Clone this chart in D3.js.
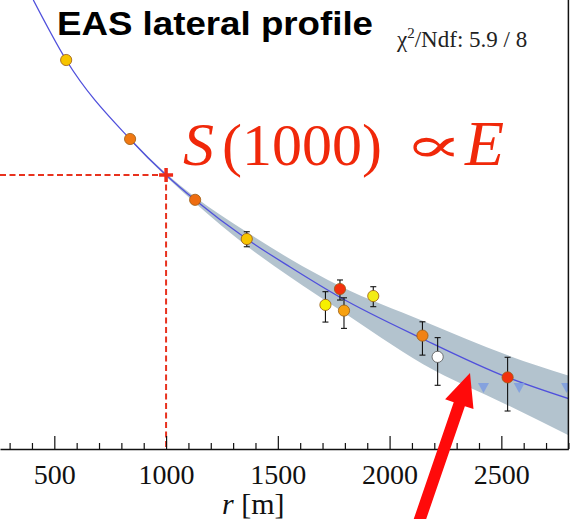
<!DOCTYPE html>
<html>
<head>
<meta charset="utf-8">
<script src="https://cdn.jsdelivr.net/npm/d3@7"></script>
<style>
  html, body { margin: 0; padding: 0; background: #fff; }
  svg { display: block; }
</style>
</head>
<body>
<svg id="chart" width="578" height="519"></svg>
<script>
// Fitted lateral distribution function S(r) [VEM] vs core distance r [m]
const fitR = [406, 553, 839, 1000, 1130, 1361, 1555, 1778, 2150, 2528, 2810];
const fitS = [200, 89.8, 31.2, 19.36, 13.87, 8.24, 5.67, 3.79, 2.17, 1.30, 0.97];

// Uncertainty band of the fit
const bandR  = [839, 1000, 1130, 1361, 1555, 1778, 2150, 2526, 2816];
const bandHi = [31.6, 19.75, 14.43, 9.05, 6.31, 4.40, 2.76, 1.75, 1.31];
const bandLo = [30.8, 18.98, 13.32, 7.51, 4.96, 3.19, 1.55, 0.90, 0.587];

// Triggered stations: distance, signal, error range, colour
const stR   = [553, 839, 1130, 1361, 1713, 1778, 1796, 1927, 2147, 2215, 2528];
const stS   = [89.8, 31.3, 13.9, 8.24, 3.42, 4.23, 3.17, 3.85, 2.27, 1.71, 1.30];
const stLo  = [null, null, null, 7.43, 2.72, 3.65, 2.50, 3.34, 1.75, 1.17, 0.83];
const stHi  = [null, null, null, 9.08, 4.08, 4.77, 3.76, 4.36, 2.73, 2.21, 1.70];
const stCol = ["#f7c400", "#f07812", "#ee6c10", "#f7c400", "#f7f000", "#f4300e",
               "#f6a010", "#f3ec14", "#f08214", "#ffffff", "#f2300c"];

// Silent stations (no signal)
const silR = [2420, 2580, 2792];
const silS = [1.13, 1.13, 1.13];

// Reference distance for the shower size estimator
const refR = 1000;
const refS = 19.36;

// Axis ticks
const majorTicks = [500, 1000, 1500, 2000, 2500];
const minorTicks = [300, 400, 600, 700, 800, 900, 1100, 1200, 1300, 1400, 1600, 1700,
                    1800, 1900, 2100, 2200, 2300, 2400, 2600, 2700, 2800];

const SERIF = "'Liberation Serif', 'Times New Roman', Times, serif";

const svg = d3.select("#chart");
const x = d3.scaleLinear().domain([257, 2800]).range([0, 568.4]);
const y = d3.scaleLog().domain([0.5, 200]).range([449, 0]);

svg.append("clipPath").attr("id", "plotClip")
  .append("rect").attr("x", 0).attr("y", 0)
  .attr("width", x(2800)).attr("height", y(0.5));

const plot = svg.append("g").attr("clip-path", "url(#plotClip)");

// Fit uncertainty band
const band = bandR.map((r, i) => ({ r, lo: bandLo[i], hi: bandHi[i] }));
plot.append("path")
  .datum(band)
  .attr("fill", "#b3c3ce")
  .attr("d", d3.area()
    .x(d => x(d.r)).y0(d => y(d.lo)).y1(d => y(d.hi))
    .curve(d3.curveMonotoneX));

// Fit line
const fit = fitR.map((r, i) => ({ r, s: fitS[i] }));
plot.append("path")
  .datum(fit)
  .attr("fill", "none")
  .attr("stroke", "#5050dc")
  .attr("stroke-width", 1.3)
  .attr("d", d3.line().x(d => x(d.r)).y(d => y(d.s)).curve(d3.curveMonotoneX));

// Dashed guides to S(1000)
plot.append("line")
  .attr("x1", x(257)).attr("x2", x(refR))
  .attr("y1", y(refS)).attr("y2", y(refS))
  .attr("stroke", "#e8321e").attr("stroke-width", 2).attr("stroke-dasharray", "6,3.5");
plot.append("line")
  .attr("x1", x(refR)).attr("x2", x(refR))
  .attr("y1", y(refS)).attr("y2", y(0.5))
  .attr("stroke", "#e8321e").attr("stroke-width", 2).attr("stroke-dasharray", "6,3.5");

// Error bars
const stations = stR.map((r, i) => ({ r, s: stS[i], lo: stLo[i], hi: stHi[i], c: stCol[i] }));
const eb = plot.append("g").attr("stroke", "#111").attr("stroke-width", 1.1);
stations.filter(d => d.lo !== null).forEach(d => {
  eb.append("line").attr("x1", x(d.r)).attr("x2", x(d.r)).attr("y1", y(d.lo)).attr("y2", y(d.hi));
  eb.append("line").attr("x1", x(d.r) - 3).attr("x2", x(d.r) + 3).attr("y1", y(d.lo)).attr("y2", y(d.lo));
  eb.append("line").attr("x1", x(d.r) - 3).attr("x2", x(d.r) + 3).attr("y1", y(d.hi)).attr("y2", y(d.hi));
});

// Station markers
plot.append("g").selectAll("circle")
  .data(stations).join("circle")
  .attr("cx", d => x(d.r)).attr("cy", d => y(d.s)).attr("r", 5.6)
  .attr("fill", d => d.c)
  .attr("stroke", d => d.c === "#ffffff" ? "#555" : "#9a5a10")
  .attr("stroke-width", 0.8);

// Silent stations as downward triangles
plot.append("g").selectAll("path")
  .data(silR.map((r, i) => ({ r, s: silS[i] }))).join("path")
  .attr("d", d => {
    const cx = x(d.r), cy = y(d.s);
    return `M${cx - 5.5},${cy - 5}L${cx + 5.5},${cy - 5}L${cx},${cy + 5}Z`;
  })
  .attr("fill", "#7f9ee0").attr("fill-opacity", 0.9);

// S(1000) marker
const cross = plot.append("g").attr("stroke", "#ee2a18").attr("stroke-width", 3.5);
cross.append("line").attr("x1", x(refR) - 7).attr("x2", x(refR) + 7).attr("y1", y(refS)).attr("y2", y(refS));
cross.append("line").attr("x1", x(refR)).attr("x2", x(refR)).attr("y1", y(refS) - 7).attr("y2", y(refS) + 7);

// X axis with major and minor ticks pointing inward
const axisG = svg.append("g").attr("transform", `translate(0,${y(0.5)})`);
axisG.call(d3.axisBottom(x).tickValues(majorTicks).tickSizeInner(-13).tickSizeOuter(0).tickPadding(15)
  .tickFormat(d3.format("d")));
axisG.append("g").call(d3.axisBottom(x).tickValues(minorTicks).tickSizeInner(-6).tickSizeOuter(0)
  .tickFormat(""))
  .select(".domain").remove();
axisG.selectAll(".domain").attr("stroke", "#111").attr("stroke-width", 1.5);
axisG.selectAll(".tick line").attr("stroke", "#111").attr("stroke-width", 1.2);
axisG.selectAll(".tick text")
  .attr("font-family", SERIF)
  .attr("font-size", 28).attr("fill", "#111");

// Right frame
svg.append("line")
  .attr("x1", x(2800)).attr("x2", x(2800)).attr("y1", 0).attr("y2", y(0.5))
  .attr("stroke", "#111").attr("stroke-width", 1.5);

// Axis title
const xt = svg.append("text").attr("x", 222).attr("y", 514)
  .attr("font-family", SERIF)
  .attr("font-size", 30).attr("fill", "#111");
xt.append("tspan").attr("font-family", SERIF).attr("font-style", "italic").text("r");
xt.append("tspan").attr("font-family", SERIF).text(" [m]");

// Title
svg.append("text").attr("x", 57).attr("y", 35)
  .attr("font-family", "'Liberation Sans', Arial, sans-serif")
  .attr("font-weight", "bold").attr("font-size", 34)
  .attr("textLength", 316).attr("lengthAdjust", "spacingAndGlyphs")
  .attr("fill", "#000").text("EAS lateral profile");

// Fit quality
const chi = svg.append("text").attr("x", 397).attr("y", 47)
  .attr("font-family", SERIF)
  .attr("font-size", 23).attr("fill", "#222");
chi.append("tspan").attr("font-family", SERIF).text("χ");
chi.append("tspan").attr("font-family", SERIF).attr("font-size", 15).attr("dy", -9).text("2");
chi.append("tspan").attr("font-family", SERIF).attr("dy", 9).text("/Ndf: 5.9 / 8");

// Energy estimator annotation
const annColor = "#f0280a";
const ann = svg.append("g").attr("fill", annColor);
ann.append("text").attr("x", 183).attr("y", 165)
  .attr("font-family", SERIF).attr("font-style", "italic").attr("font-size", 62).text("S");
ann.append("text").attr("x", 222).attr("y", 165)
  .attr("font-family", SERIF).attr("font-size", 60).text("(1000)");
ann.append("text").attr("transform", "translate(404,162) scale(1.75,1)")
  .attr("font-family", "'DejaVu Serif', serif").attr("font-size", 50).text("∝");
ann.append("text").attr("x", 465).attr("y", 165)
  .attr("font-family", SERIF).attr("font-style", "italic").attr("font-size", 64).text("E");

// Pointer arrow
const tail = [416.2, 530], tip = [470, 373];
const len = Math.hypot(tip[0] - tail[0], tip[1] - tail[1]);
const u = [(tip[0] - tail[0]) / len, (tip[1] - tail[1]) / len];
const n = [-u[1], u[0]];
const headLen = 33, shaftHalf = 5.9, headHalf = 15;
const base = [tip[0] - u[0] * headLen, tip[1] - u[1] * headLen];
const pt = (p, k) => [p[0] + n[0] * k, p[1] + n[1] * k];
svg.append("path")
  .attr("d", d3.line()([pt(tail, -shaftHalf), pt(base, -shaftHalf), pt(base, -headHalf), tip,
                        pt(base, headHalf), pt(base, shaftHalf), pt(tail, shaftHalf)]) + "Z")
  .attr("fill", "#ff0a0a");
</script>
</body>
</html>
